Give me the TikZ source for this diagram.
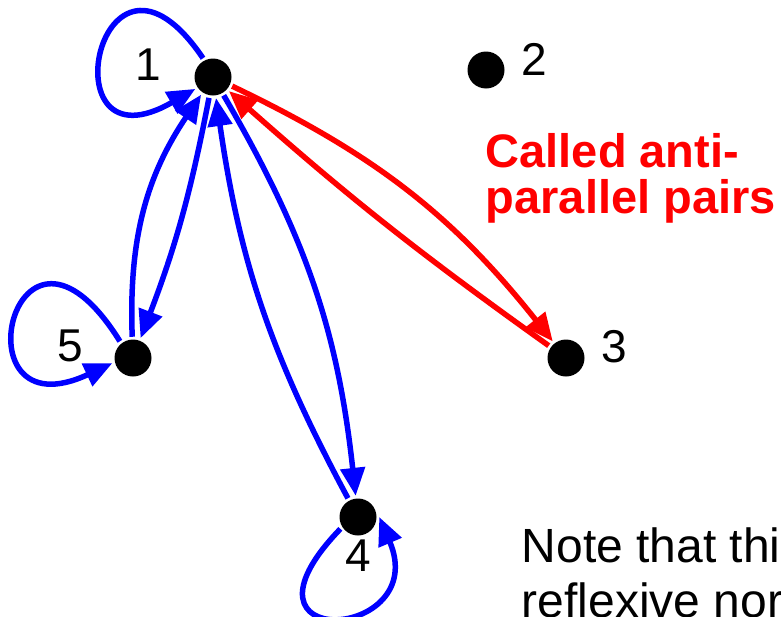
\documentclass[tikz,border=0pt]{standalone}
\usepackage{fontspec}
\setmainfont{Liberation Sans}
\usepackage{tikz}
\usetikzlibrary{arrows.meta}

\begin{document}
\begin{tikzpicture}[x=1pt,y=1pt,line width=5.5pt,>={Triangle[length=28pt,width=24pt]}]
	\tikzstyle{vertex}=[circle,fill=black,minimum size=37pt,inner sep=0pt]
	\tikzstyle{annot}=[inner sep=0pt,font=\fontsize{46}{46}\selectfont]
	\tikzstyle{blue edge}=[->,draw=blue]
	\tikzstyle{red edge}=[->,draw=red]
	\tikzstyle{remark}=[anchor=north west,inner sep=0pt,align=left]
	\useasboundingbox (0,0) rectangle (781,-616);

	% Draw the vertices
	\foreach \name / \x / \y in {1/213/77, 2/486/70, 3/566/358, 4/358/517, 5/133/358}
	\node[vertex] (V-\name) at (\x,-\y) {};

	% Number the vertices
	\foreach \name / \x / \y in {1/148/65, 2/534/59, 3/614/347, 4/358/556, 5/70/346}
	\node[annot] (L-\name) at (\x,-\y) {\name};

	% Self loops on 1, 5 and 4
	\draw[blue edge] (V-1.118) .. controls +(124:185) and +(210:175) .. (V-1.214);
	\draw[blue edge] (V-5.128) .. controls +(122:200) and +(205:175) .. (V-5.194);
	\draw[blue edge] (V-4.214) .. controls +(226:175) and +(293:135) .. (V-4.0);

	% Connect 1 with 5 and 4 both ways
	\draw[blue edge] (V-5) to[bend left=18] (V-1);
	\draw[blue edge] (V-1) to[bend left=5] (V-5);
	\draw[blue edge] (V-1) to[bend left=12] (V-4);
	\draw[blue edge] (V-4) to[bend left=10] (V-1);

	% The pair between 1 and 3
	\draw[red edge] (V-1) to[bend left=13] (V-3);
	\draw[red edge] (V-3) to[bend left=3] (V-1);

	% Annotate
	\node[remark,text=red,font=\fontsize{47}{46}\selectfont\bfseries] (pairs) at (483,-131) {Called anti-\\parallel pairs};
	\node[remark,font=\fontsize{48}{55}\selectfont] (note) at (519,-525) {Note that thi\\reflexive nor};
\end{tikzpicture}
\end{document}
